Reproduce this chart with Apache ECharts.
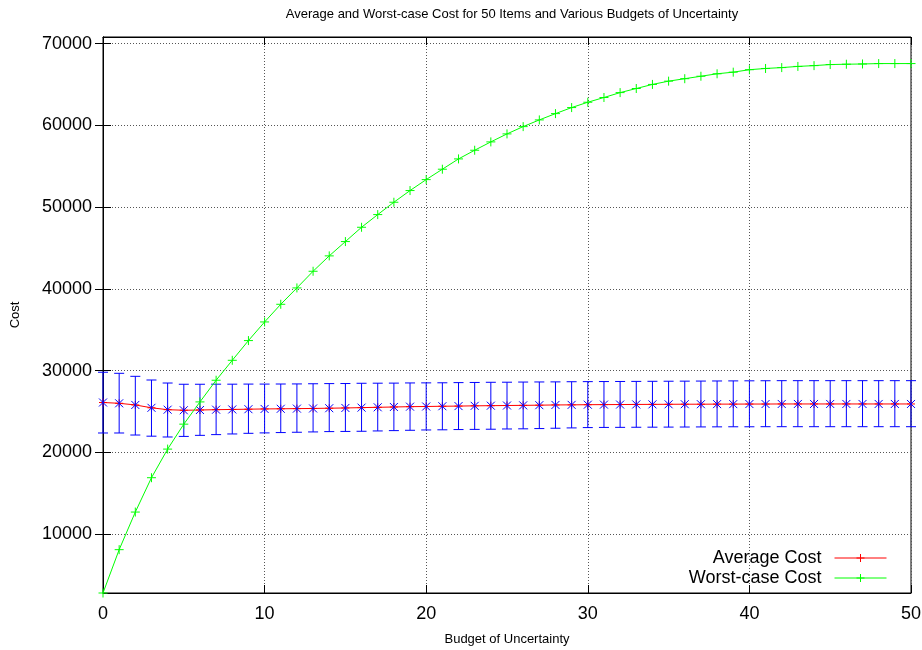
<!DOCTYPE html>
<html>
<head>
<meta charset="utf-8">
<title>Average and Worst-case Cost</title>
<script src="https://cdn.jsdelivr.net/npm/echarts@6/dist/echarts.min.js"></script>
<style>
  html, body { margin: 0; padding: 0; background: #ffffff; }
  #chart { width: 922px; height: 650px; }
</style>
</head>
<body>
<div id="chart"></div>
<script>
// Budget of uncertainty (x values)
const budgets = [0, 1, 2, 3, 4, 5, 6, 7, 8, 9, 10, 11, 12, 13, 14, 15, 16, 17, 18, 19, 20,
  21, 22, 23, 24, 25, 26, 27, 28, 29, 30, 31, 32, 33, 34, 35, 36, 37, 38, 39, 40,
  41, 42, 43, 44, 45, 46, 47, 48, 49, 50];

// Mean cost over the sampled scenarios
const averageCost = [26100, 26000, 25800, 25450, 25220, 25150, 25180, 25220, 25250, 25280, 25310,
  25330, 25350, 25370, 25400, 25430, 25470, 25510, 25550, 25590, 25610,
  25640, 25660, 25690, 25710, 25730, 25750, 25770, 25800, 25810, 25830,
  25840, 25850, 25860, 25870, 25880, 25890, 25890, 25900, 25900, 25910,
  25910, 25920, 25920, 25920, 25920, 25920, 25920, 25920, 25920, 25920];

// Lower and upper ends of the error bars around the mean
const errorLow = [22370, 22370, 22120, 21980, 21880, 21950, 22080, 22170, 22250, 22330, 22380,
  22420, 22460, 22500, 22540, 22560, 22580, 22620, 22660, 22700, 22740,
  22760, 22790, 22810, 22830, 22860, 22880, 22910, 22950, 22990, 23030,
  23050, 23060, 23070, 23080, 23090, 23100, 23110, 23120, 23130, 23130,
  23140, 23140, 23140, 23140, 23140, 23140, 23140, 23140, 23140, 23140];
const errorHigh = [29800, 29670, 29300, 28850, 28480, 28330, 28330, 28340, 28340, 28350, 28350,
  28360, 28370, 28390, 28410, 28420, 28450, 28460, 28470, 28490, 28500,
  28510, 28530, 28550, 28570, 28580, 28600, 28610, 28620, 28640, 28650,
  28660, 28670, 28680, 28690, 28700, 28710, 28720, 28730, 28740, 28750,
  28760, 28770, 28770, 28770, 28770, 28770, 28770, 28770, 28770, 28770];

// Worst-case cost for each budget
const worstCaseCost = [2800, 8100, 12700, 16900, 20400, 23450, 26170, 28820, 31260, 33670, 35950,
  38110, 40110, 42150, 44030, 45780, 47530, 49080, 50590, 52020, 53360,
  54630, 55890, 56950, 57970, 58950, 59840, 60660, 61430, 62170, 62820,
  63400, 64000, 64500, 65000, 65400, 65700, 66000, 66300, 66500, 66800,
  66950, 67060, 67200, 67300, 67430, 67470, 67500, 67550, 67550, 67550];

// Axis tick values
const xTicks = [0, 10, 20, 30, 40, 50];
const yTicks = [10000, 20000, 30000, 40000, 50000, 60000, 70000];

const FONT = '"Liberation Sans", Arial, Helvetica, sans-serif';

const chart = echarts.init(document.getElementById('chart'), null, { renderer: 'canvas' });

const plusSymbol = 'path://M0,5L10,5M5,0L5,10';

const avgPairs = budgets.map((b, i) => [b, averageCost[i]]);
const worstPairs = budgets.map((b, i) => [b, worstCaseCost[i]]);
const errorRows = budgets.map((b, i) => [b, errorLow[i], errorHigh[i], averageCost[i]]);

const gridLine = { show: true, lineStyle: { color: '#555', width: 1, type: [1, 2] } };
const blackLine = { show: true, lineStyle: { color: '#000', width: 1 } };

const option = {
  backgroundColor: '#ffffff',
  animation: false,
  title: {
    text: 'Average and Worst-case Cost for 50 Items and Various Budgets of Uncertainty',
    left: 507,
    top: 3,
    textAlign: 'center',
    textStyle: { fontFamily: FONT, fontSize: 13, fontWeight: 'normal', color: '#000' }
  },
  grid: {
    left: 103, right: 11, top: 37, bottom: 57,
    show: true, borderColor: '#000', borderWidth: 1,
    containLabel: false,
    outerBoundsMode: 'none'
  },
  legend: {
    data: [
      { name: 'Average Cost', itemStyle: { borderWidth: 1 } },
      { name: 'Worst-case Cost', itemStyle: { borderWidth: 1 } }
    ],
    orient: 'vertical',
    align: 'right',
    right: 35,
    top: 549,
    itemWidth: 52,
    itemHeight: 10,
    itemGap: 2,
    padding: 0,
    selectedMode: false,
    lineStyle: { width: 1 },
    itemStyle: { borderWidth: 1 },
    textStyle: { fontFamily: FONT, fontSize: 18, color: '#000', padding: [0, 8, 0, 0] }
  },
  xAxis: [{
    type: 'value',
    min: 0, max: 50, interval: 10,
    position: 'bottom',
    name: 'Budget of Uncertainty',
    nameLocation: 'middle',
    nameGap: 40,
    nameTextStyle: { fontFamily: FONT, fontSize: 13, color: '#000' },
    axisLine: blackLine,
    axisTick: { show: true, inside: true, length: 8, lineStyle: { color: '#000' } },
    axisLabel: { fontFamily: FONT, fontSize: 18, color: '#000', margin: 12,
      showMinLabel: true, showMaxLabel: true, customValues: xTicks },
    splitLine: gridLine
  }, {
    type: 'value',
    min: 0, max: 50, interval: 10,
    position: 'top',
    axisLine: blackLine,
    axisTick: { show: true, inside: true, length: 8, lineStyle: { color: '#000' } },
    axisLabel: { show: false },
    splitLine: { show: false }
  }],
  yAxis: [{
    type: 'value',
    min: 2800, max: 70800,
    position: 'left',
    name: 'Cost',
    nameLocation: 'middle',
    nameGap: 81,
    nameRotate: 90,
    nameTextStyle: { fontFamily: FONT, fontSize: 13, color: '#000' },
    axisLine: blackLine,
    axisTick: { show: true, inside: true, length: 8, customValues: yTicks, lineStyle: { color: '#000' } },
    axisLabel: { fontFamily: FONT, fontSize: 18, color: '#000', margin: 11, customValues: yTicks,
      formatter: (v) => String(v) },
    splitLine: gridLine
  }, {
    type: 'value',
    min: 2800, max: 70800,
    position: 'right',
    axisLine: blackLine,
    axisTick: { show: true, inside: true, length: 8, customValues: yTicks, lineStyle: { color: '#000' } },
    axisLabel: { show: false },
    splitLine: { show: false }
  }],
  series: [
    {
      name: 'Average Cost',
      type: 'line',
      xAxisIndex: 0, yAxisIndex: 0,
      data: avgPairs,
      symbol: plusSymbol,
      symbolSize: 8,
      showSymbol: true,
      lineStyle: { color: '#ff0000', width: 1 },
      itemStyle: { color: '#ff0000', borderColor: '#ff0000', borderWidth: 1 },
      z: 2
    },
    {
      name: 'errorbars',
      type: 'custom',
      xAxisIndex: 0, yAxisIndex: 0,
      data: errorRows,
      encode: { x: 0, y: [1, 2, 3] },
      z: 3,
      renderItem: function (params, api) {
        const x = api.value(0);
        const lo = api.coord([x, api.value(1)]);
        const hi = api.coord([x, api.value(2)]);
        const mid = api.coord([x, api.value(3)]);
        const cap = 5;
        const m = 4;
        const style = { stroke: '#0000ff', lineWidth: 1, fill: null };
        const seg = (x1, y1, x2, y2) => ({ type: 'line', shape: { x1, y1, x2, y2 }, style });
        return {
          type: 'group',
          children: [
            seg(hi[0], hi[1], lo[0], lo[1]),
            seg(hi[0] - cap, hi[1], hi[0] + cap, hi[1]),
            seg(lo[0] - cap, lo[1], lo[0] + cap, lo[1]),
            seg(mid[0] - m, mid[1] - m, mid[0] + m, mid[1] + m),
            seg(mid[0] - m, mid[1] + m, mid[0] + m, mid[1] - m)
          ]
        };
      }
    },
    {
      name: 'Worst-case Cost',
      type: 'line',
      xAxisIndex: 0, yAxisIndex: 0,
      data: worstPairs,
      symbol: plusSymbol,
      symbolSize: 9,
      showSymbol: true,
      lineStyle: { color: '#00ff00', width: 1 },
      itemStyle: { color: '#00ff00', borderColor: '#00ff00', borderWidth: 1 },
      z: 4
    }
  ]
};

chart.setOption(option);
</script>
</body>
</html>
